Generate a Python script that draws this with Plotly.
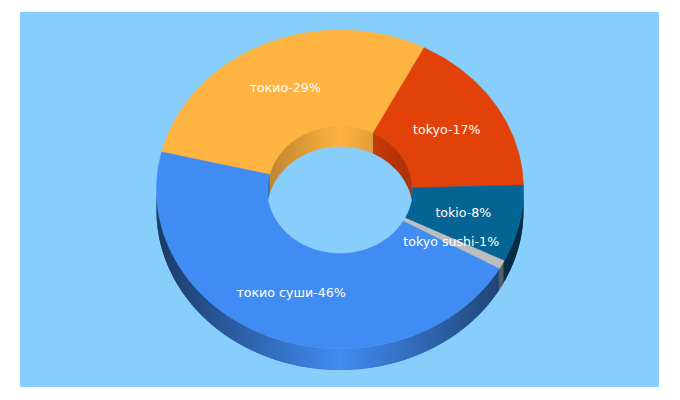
import numpy as np
import plotly.graph_objects as go

labels = ["токио суши-46%", "токио-29%", "tokyo-17%", "tokio-8%", "tokyo sushi-1%"]
shares = [45.5, 28.8, 17.0, 7.8, 0.9]
colors = ["#418CF2", "#FFB340", "#E2420A", "#046595", "#BDBDBD"]
background = "#87CEFC"

# donut drawn in page pixels, tilted so it looks 3D
cx, cy = 340.0, 189.5
rx, ry = 183.5, 159.5
inner_rx, inner_ry = 72.5, 63.6
depth = 21.0
start_angle = 166.4  # blue/orange edge, slices run clockwise from orange


def ellipse(a, b, angles, drop=0.0):
    t = np.radians(angles)
    return cx + a * np.cos(t), cy + drop - b * np.sin(t)


def shaded(color, f):
    r, g, b = int(color[1:3], 16), int(color[3:5], 16), int(color[5:7], 16)
    return f"rgb({r * f:.0f},{g * f:.0f},{b * f:.0f})"


def poly(x, y, color, width=0.6):
    return go.Scatter(x=list(x) + [x[0]], y=list(y) + [y[0]], mode="lines", fill="toself",
                      fillcolor=color, line=dict(color=color, width=width), hoverinfo="skip")


# slice spans, orange first then round to blue
order = [1, 2, 3, 4, 0]
spans = {}
a = start_angle
for i in order:
    spans[i] = (a - shares[i] * 3.6, a)
    a -= shares[i] * 3.6

fig = go.Figure()

# walls: small overlapping quads so the shading looks like a gradient
step = 1.0
for deg in np.arange(-180, 180, step):
    mid = deg + step / 2
    for i in order:
        lo, hi = spans[i]
        m = mid if lo <= mid <= hi else mid - 360
        if not lo <= m <= hi:
            continue
        # run on a bit past the next quad so no seams show, stopping at the slice edge
        end = deg + min(step * 2, max(hi - m + step / 2, step))
        if deg < 0:
            # outside wall, front half
            pair = np.array([deg, min(end, 0)])
            x1, y1 = ellipse(rx, ry, pair)
            x2, y2 = ellipse(rx, ry, pair[::-1], depth)
            f = 1 - 0.58 * abs(np.cos(np.radians(mid)))
        else:
            # inside wall, back half
            pair = np.array([deg, min(end, 180)])
            x1, y1 = ellipse(inner_rx, inner_ry, pair)
            x2, y2 = ellipse(inner_rx, inner_ry, pair[::-1], depth)
            f = 1 - 0.26 * abs(np.cos(np.radians(mid)))
        fig.add_trace(poly(np.r_[x1, x2], np.r_[y1, y2], shaded(colors[i], f), width=0))

# top faces
for i in order:
    lo, hi = spans[i]
    angles = np.linspace(lo, hi, max(int(hi - lo), 2) + 1)
    x1, y1 = ellipse(rx, ry, angles)
    x2, y2 = ellipse(inner_rx, inner_ry, angles[::-1])
    fig.add_trace(poly(np.r_[x1, x2], np.r_[y1, y2], colors[i]))

# the hole: where the top and bottom inner ellipses overlap
corner = np.degrees(np.arcsin(depth / 2 / inner_ry))
x1, y1 = ellipse(inner_rx, inner_ry, np.linspace(corner, 180 - corner, 120), depth)
x2, y2 = ellipse(inner_rx, inner_ry, np.linspace(-180 + corner, -corner, 120))
fig.add_trace(poly(np.r_[x1, x2], np.r_[y1, y2], background))

# slice labels, halfway across the ring
for i in order:
    mid = sum(spans[i]) / 2
    tx, ty = ellipse((rx + inner_rx) / 2, (ry + inner_ry) / 2, np.array([mid]), drop=0.6)
    fig.add_trace(go.Scatter(x=tx - 1.6, y=ty, mode="text", text=[labels[i]], hoverinfo="skip",
                             textposition="middle center",
                             textfont=dict(family="DejaVu Sans", size=12.6, color="white")))

fig.update_layout(
    width=680, height=400, showlegend=False,
    paper_bgcolor="white", plot_bgcolor=background,
    margin=dict(l=20, r=21, t=12, b=13),
    xaxis=dict(range=[20, 659], visible=False, fixedrange=True),
    yaxis=dict(range=[387, 12], visible=False, fixedrange=True),
)

fig.write_html("out.html", config=dict(displayModeBar=False),
               post_script="document.body.style.margin='0';")
